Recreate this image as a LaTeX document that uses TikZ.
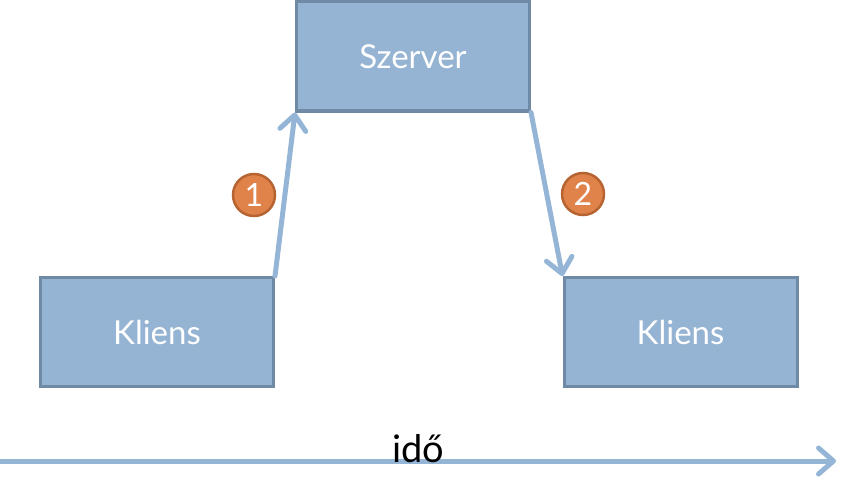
\documentclass[tikz,border=0pt]{standalone}
\usepackage{fontspec}
\setmainfont{Lato}
\usetikzlibrary{arrows.meta}
\definecolor{boxfill}{RGB}{149,179,210}
\definecolor{boxline}{RGB}{110,138,165}
\definecolor{arrowc}{RGB}{149,181,214}
\definecolor{badgefill}{RGB}{224,131,74}
\definecolor{badgeline}{RGB}{182,100,50}
\tikzset{
  pbox/.style={draw=boxline, fill=boxfill, line width=3pt, minimum width=233pt, minimum height=109pt,
    inner sep=0pt, text=white, font=\fontsize{33}{35}\selectfont},
  flow/.style={draw=arrowc, line width=5pt, line cap=round,
    -{Straight Barb[length=15pt,width=26pt,round]}},
  badge/.style={circle, draw=badgeline, fill=badgefill, line width=2.5pt, minimum size=42pt,
    inner sep=0pt, text=white, font=\fontsize{32}{34}\selectfont},
}
\begin{document}
\begin{tikzpicture}[x=1pt,y=-1pt]
\useasboundingbox (0,0) rectangle (866,500);
\node[pbox] (szerver) at (413,56.5) {\raisebox{-3pt}{Szerver}};
\node[pbox] (k1) at (157,332) {Kliens};
\node[pbox] (k2) at (680.5,332) {Kliens};
\draw[flow] (k1.north east) -- (szerver.south west);
\draw[flow] (szerver.south east) -- (k2.north west);
\node[badge] (b1) at (254,195) {1};
\node[badge] (b2) at (583,194) {2};
\coordinate (t0) at (0,461);
\coordinate (t1) at (836,461);
\draw[flow, line cap=butt] (t0) -- (t1);
\node[anchor=base, font=\fontsize{38}{40}\selectfont, inner sep=0pt] (ido) at (418,462) {idő};
\end{tikzpicture}
\end{document}
